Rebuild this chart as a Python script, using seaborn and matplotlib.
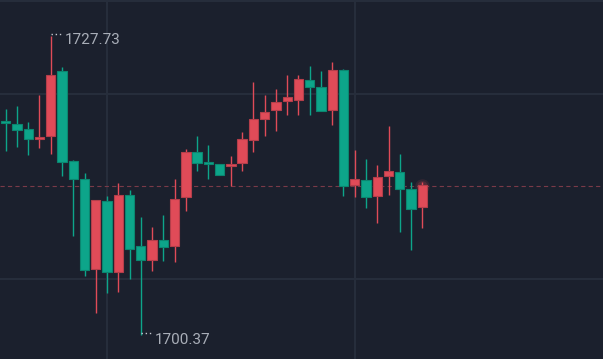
import pandas as pd
import seaborn as sns
import matplotlib.pyplot as plt

# OHLC values (red = up, green = down)
opens = [1719.95, 1719.70, 1719.25, 1718.31, 1718.55, 1724.53, 1716.29, 1714.67, 1706.44, 1712.60,
         1706.11, 1713.18, 1708.51, 1707.23, 1709.06, 1708.51, 1713.00, 1717.09, 1716.17, 1716.04,
         1715.83, 1716.08, 1718.24, 1720.16, 1720.99, 1721.78, 1721.90, 1723.70, 1723.04, 1720.99,
         1724.62, 1714.10, 1714.55, 1713.09, 1714.92, 1715.26, 1713.76, 1712.06]
closes = [1719.77, 1719.16, 1718.33, 1718.49, 1724.16, 1716.17, 1714.67, 1706.35, 1712.72, 1706.11,
          1713.18, 1708.27, 1707.23, 1709.06, 1708.39, 1712.81, 1717.09, 1716.08, 1716.02, 1715.04,
          1716.04, 1718.33, 1720.16, 1720.75, 1721.66, 1722.12, 1723.82, 1723.04, 1720.87, 1724.62,
          1714.00, 1714.67, 1712.97, 1714.80, 1715.35, 1713.76, 1711.93, 1714.10]
highs = [1721.08, 1721.33, 1719.83, 1722.33, 1727.73, 1724.87, 1716.38, 1715.17, 1712.72, 1713.09,
         1714.25, 1713.64, 1711.14, 1710.22, 1711.35, 1714.67, 1717.42, 1718.58, 1717.76, 1716.04,
         1716.75, 1718.92, 1723.49, 1722.33, 1722.88, 1724.16, 1724.16, 1724.99, 1724.53, 1725.35,
         1724.74, 1717.30, 1716.50, 1715.93, 1719.49, 1716.96, 1714.34, 1714.34]
lows = [1717.21, 1717.55, 1716.84, 1717.51, 1716.93, 1714.92, 1709.43, 1705.77, 1702.41, 1704.24,
        1704.28, 1705.52, 1700.37, 1706.25, 1707.14, 1707.02, 1711.72, 1715.38, 1714.67, 1715.04,
        1714.00, 1715.38, 1717.09, 1718.58, 1719.06, 1720.53, 1720.53, 1720.53, 1720.87, 1719.59,
        1713.09, 1712.97, 1712.02, 1710.65, 1713.18, 1709.77, 1708.15, 1710.19]

grid_prices = [1705.49, 1722.42, 1730.93]
grid_bars = [9, 31]

BG = '#1b202d'
GRID = '#272e3c'
RED = '#e04b58'
GREEN = '#0da58a'
RED_EDGE = '#b43e4a'
GREEN_EDGE = '#0b8670'

df = pd.DataFrame({'open': opens, 'high': highs, 'low': lows, 'close': closes})
df['idx'] = range(len(df))
df['up'] = df['close'] >= df['open']
df['color'] = df['up'].map({True: RED, False: GREEN})
df['edge'] = df['up'].map({True: RED_EDGE, False: GREEN_EDGE})
df['bottom'] = df[['open', 'close']].min(axis=1)
df['height'] = (df['close'] - df['open']).abs().clip(lower=0.15)

sns.set_theme(style='dark', rc={'axes.facecolor': BG, 'figure.facecolor': BG,
                                'axes.edgecolor': BG, 'grid.color': GRID})
plt.rcParams['font.family'] = ['Roboto', 'DejaVu Sans']

fig = plt.figure(figsize=(6.03, 3.59), dpi=100)
ax = fig.add_axes([0, 0, 1, 1])

# grid lines
ax.set_xticks(grid_bars)
ax.set_yticks(grid_prices)
ax.grid(True, color=GRID, linewidth=1.4)
ax.tick_params(length=0, labelleft=False, labelbottom=False)
for s in ax.spines.values():
    s.set_visible(False)

# last price line
last = df.iloc[-1]
ax.axhline(last['close'] - 0.12, color='#7a3a48', linewidth=0.8, linestyle=(0, (3.8, 2.9)), zorder=1)

# wicks and bodies
ax.vlines(df['idx'], df['low'], df['high'], colors=df['color'], linewidth=1.0, zorder=2)
ax.bar(df['idx'], df['height'], bottom=df['bottom'], width=0.83,
       color=df['color'], edgecolor=df['edge'], linewidth=0.8, zorder=3)

# soft glow on the live candle
for size, a in [(110, 0.12), (60, 0.18)]:
    sns.scatterplot(x=[last['idx']], y=[last['close'] - 0.1], s=size, color=RED, alpha=a,
                    linewidth=0, ax=ax, legend=False, zorder=2)

# high / low markers
hi = df['high'].idxmax()
lo = df['low'].idxmin()
for i, val, dy in [(hi, df.loc[hi, 'high'], -4.5), (lo, df.loc[lo, 'low'], -5.5)]:
    ax.hlines(val + 0.15, i + 0.05, i + 0.9, colors='#c4c8d0', linewidth=1.0,
              linestyles=(0, (1, 2)), zorder=4)
    ax.annotate(f'{val:.2f}', xy=(i, val), xytext=(14, dy), textcoords='offset pixels',
                ha='left', va='center', fontsize=11, color='#a9aeb8')

ax.set_xlim(-0.506, 53.05)
ax.set_ylim(1698.17, 1731.02)

fig.savefig('out.png', dpi=100, facecolor=BG)
